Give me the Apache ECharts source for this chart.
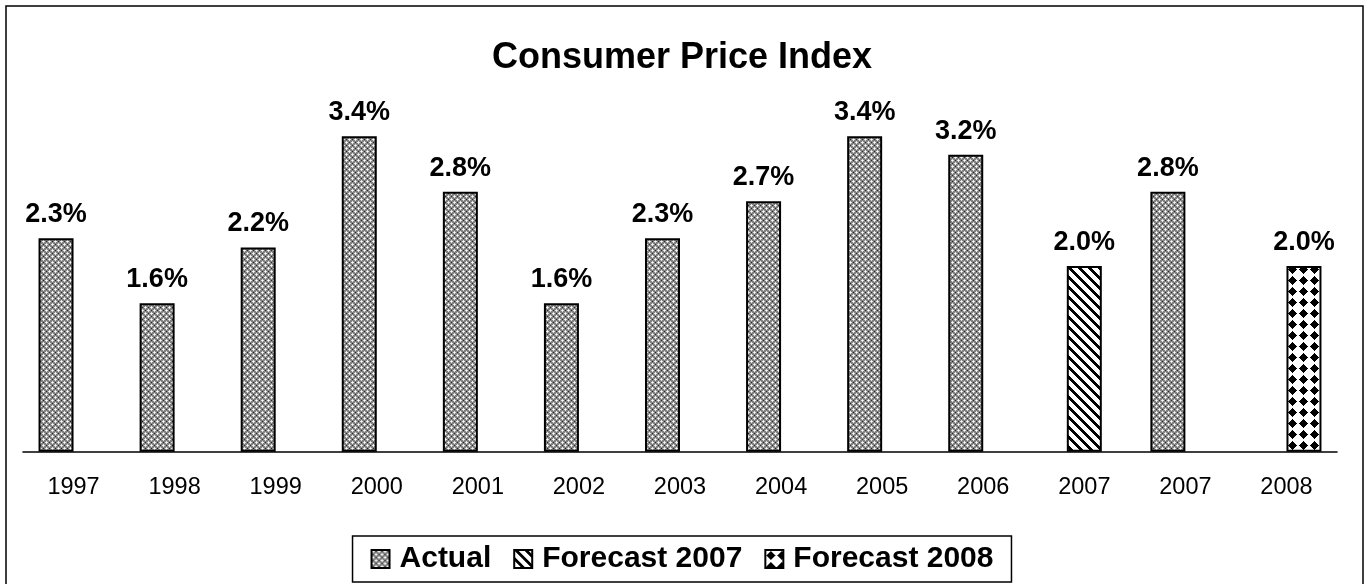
<!DOCTYPE html>
<html>
<head>
<meta charset="utf-8">
<script src="https://cdn.jsdelivr.net/npm/echarts@6/dist/echarts.min.js"></script>
<style>html,body{margin:0;padding:0;background:#fff;}#c{width:1364px;height:584px;}</style>
</head>
<body>
<div id="c"></div>
<script>
const categories = ['1997','1998','1999','2000','2001','2002','2003','2004','2005','2006','2007','2007','2008'];
const actual = [2.3,1.6,2.2,3.4,2.8,1.6,2.3,2.7,3.4,3.2,null,2.8,null];
const forecast2007 = [null,null,null,null,null,null,null,null,null,null,2.0,null,null];
const forecast2008 = [null,null,null,null,null,null,null,null,null,null,null,null,2.0];
const seriesNames = ['Actual','Forecast 2007','Forecast 2008'];

function makeTile(size, fn) {
  const c = document.createElement('canvas');
  c.width = size; c.height = size;
  const ctx = c.getContext('2d');
  const img = ctx.createImageData(size, size);
  for (let y = 0; y < size; y++) for (let x = 0; x < size; x++) {
    const v = fn(x, y);
    const i = (y * size + x) * 4;
    img.data[i] = v; img.data[i+1] = v; img.data[i+2] = v; img.data[i+3] = 255;
  }
  ctx.putImageData(img, 0, 0);
  return c;
}
// Actual: grey lattice with white crosses and dark dots
const tileActual = makeTile(6, (x, y) => {
  const dx1 = Math.abs(x-1), dy1 = Math.abs(y-1), dx2 = Math.abs(x-4), dy2 = Math.abs(y-4);
  if ((dx1 + dy1) === 0 || (dx2 + dy2) === 0) return 255;
  if ((dx1 + dy1) === 1 || (dx2 + dy2) === 1) return 225;
  if ((x === 4 && y === 1) || (x === 1 && y === 4)) return 40;
  return 130;
});
// Forecast 2007: wide downward diagonal stripes
const tile2007 = makeTile(10, (x, y) => (((x - y) % 10 + 10) % 10) < 4 ? 0 : 255);
// Forecast 2008: black diamonds on white
const tile2008 = makeTile(11, (x, y) => (Math.abs(x - 5) + Math.abs(y - 5) <= 4.5) ? 0 : 255);

const pat = t => ({ image: t, repeat: 'repeat' });
const FONT = 'Liberation Sans, Arial, sans-serif';

const chart = echarts.init(document.getElementById('c'), null, { renderer: 'canvas' });
const labelCfg = {
  show: true, position: 'top', distance: 10,
  fontFamily: FONT, fontWeight: 'bold', fontSize: 27, color: '#000',
  formatter: p => p.value == null ? '' : p.value.toFixed(1) + '%'
};
function barSeries(name, data, tile) {
  return {
    name, type: 'bar', data, barWidth: 35, barGap: '-50%',
    itemStyle: { color: pat(tile), borderColor: '#000', borderWidth: 2 },
    label: labelCfg,
    emphasis: { disabled: true }
  };
}
chart.setOption({
  animation: false,
  backgroundColor: '#fff',
  title: {
    text: 'Consumer Price Index', left: 'center', top: 35,
    textStyle: { fontFamily: FONT, fontWeight: 'bold', fontSize: 36, color: '#000' }
  },
  grid: { left: 23, right: 27, top: 80.5, bottom: 132.3, containLabel: false },
  xAxis: {
    type: 'category', data: categories,
    axisLine: { lineStyle: { color: '#000', width: 1.5 } },
    axisTick: { show: false },
    axisLabel: { fontFamily: FONT, fontSize: 23.5, color: '#000', margin: 24, interval: 0 }
  },
  yAxis: { type: 'value', min: 0, max: 4, show: false, splitLine: { show: false } },
  legend: {
    data: seriesNames.map(n => ({ name: n, icon: 'rect' })), left: 'center', top: 536,
    itemWidth: 18, itemHeight: 18, itemGap: 22,
    padding: [8, 18], borderColor: '#000', borderWidth: 1.5,
    textStyle: { fontFamily: FONT, fontWeight: 'bold', fontSize: 30, color: '#000', padding: [0, 0, 0, 5] }
  },
  graphic: [{
    type: 'rect', shape: { x: 6, y: 6, width: 1357, height: 620 },
    style: { fill: 'none', stroke: '#000', lineWidth: 1.5 }, silent: true
  }],
  series: [
    barSeries(seriesNames[0], actual, tileActual),
    barSeries(seriesNames[1], forecast2007, tile2007),
    barSeries(seriesNames[2], forecast2008, tile2008)
  ]
});
</script>
</body>
</html>
